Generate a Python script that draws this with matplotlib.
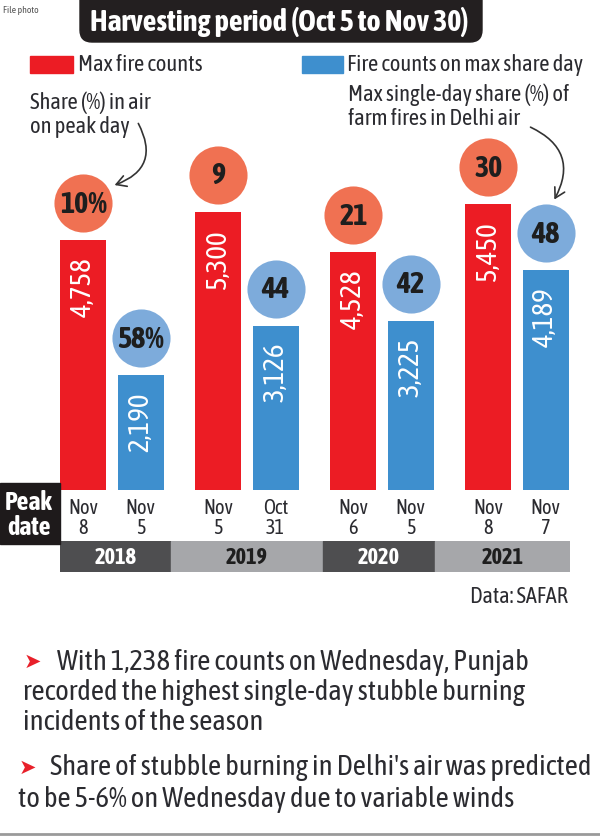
import numpy as np
import matplotlib
matplotlib.use('Agg')
import matplotlib.pyplot as plt
from matplotlib import font_manager
from matplotlib.patches import FancyBboxPatch, Rectangle, FancyArrowPatch
from matplotlib.transforms import offset_copy

# data
years = ['2018', '2019', '2020', '2021']
max_fire = [4758, 5300, 4528, 5450]
share_day_fire = [2190, 3126, 3225, 4189]
peak_share = ['10%', '9', '21', '30']
max_share = ['58%', '44', '42', '48']
red_dates = ['Nov\n8', 'Nov\n5', 'Nov\n6', 'Nov\n8']
blue_dates = ['Nov\n5', 'Oct\n31', 'Nov\n5', 'Nov\n7']

RED = '#ec1c24'
BLUE = '#3e8fce'
RED_C = '#f07152'
BLUE_C = '#7dabdb'
TXT = '#2b2b30'


# pick a narrow family, and one that has a real bold
def wnum(w):
    return w if isinstance(w, (int, float)) else font_manager.weight_dict.get(w, 400)


fams = {}
for f in font_manager.fontManager.ttflist:
    fams.setdefault(f.name, set()).add(wnum(f.weight))
narrow = [n for n in fams if 'Narrow' in n or 'Condensed' in n]
bad = ('Light', 'Thin', 'Medium', 'Black', 'Semi', 'Extra', 'Bold')


def score(n):
    s = 0
    if any(b in n for b in bad):
        s -= 10
    if 400 in fams[n]:
        s += 2
    if max(fams[n]) >= 700:
        s += 3
    return s


FONT = max(narrow, key=score) if narrow else 'DejaVu Sans'
if max(fams.get(FONT, {400})) >= 700:
    BFONT = FONT
else:
    bolds = [n for n in narrow if max(fams[n]) >= 700 or 'Bold' in n]
    BFONT = bolds[0] if bolds else 'DejaVu Sans'
plt.rcParams['font.family'] = [FONT, 'DejaVu Sans']
BOLD = dict(family=[BFONT, 'DejaVu Sans'], fontweight='bold')

W, H = 600, 837
fig = plt.figure(figsize=(W / 100, H / 100), dpi=100)
fig.patch.set_facecolor('white')


def frac(x0, y0, x1, y1):
    return [x0 / W, 1 - y1 / H, (x1 - x0) / W, (y1 - y0) / H]


def fit(texts, size, along='w'):
    # scale a group of texts so that the first one has the wanted width / height
    r = fig.canvas.get_renderer()
    bb = texts[0].get_window_extent(r)
    cur = bb.width if along == 'w' else bb.height
    fs = texts[0].get_fontsize() * size / cur
    for t in texts:
        t.set_fontsize(fs)
    return fs


# bar axes
x = np.arange(len(years))
off = 0.213
bw = 0.34
xlim = (-0.385, 3.393)

ax = fig.add_axes(frac(60, 141, 570, 491))
ax.bar(x - off, max_fire, bw, color=RED)
ax.bar(x + off, share_day_fire, bw, color=BLUE)
ax.set_xlim(*xlim)
ax.set_ylim(0, 6671)
ax.axis('off')

lab_tr = offset_copy(ax.transData, fig=fig, y=-16, units='dots')
circ_tr = offset_copy(ax.transData, fig=fig, y=37, units='dots')
date_tr = offset_copy(ax.transData, fig=fig, y=-27, units='dots')

val_t, circ_t, date_t = [], [], []
for xs, vals, circ, cc, dates in [(x - off, max_fire, peak_share, RED_C, red_dates),
                                  (x + off, share_day_fire, max_share, BLUE_C, blue_dates)]:
    ax.scatter(xs, vals, s=1750, color=cc, transform=circ_tr, clip_on=False, zorder=3,
               linewidths=0)
    for xi, v, c, d in zip(xs, vals, circ, dates):
        val_t.append(ax.text(xi, v, f'{v:,}', transform=lab_tr, rotation=90, ha='center',
                             va='top', color='white', fontsize=18))
        circ_t.append(ax.text(xi, v, c, transform=circ_tr, ha='center', va='center',
                              color='#1e1e1e', fontsize=18, zorder=4, clip_on=False,
                              **BOLD))
        date_t.append(ax.text(xi, 0, d, transform=date_tr, ha='center', va='center',
                              color=TXT, fontsize=15, linespacing=1.0, clip_on=False))
fit(val_t, 60, along='h')
fit(circ_t, 47)
fit(date_t, 30)

# year band
yr = fig.add_axes(frac(60, 542, 570, 573))
edges = [xlim[0], 0.44, 1.56, 2.39, xlim[1]]
yr_t = []
for i, y in enumerate(years):
    dark = i % 2 == 0
    yr.axvspan(edges[i], edges[i + 1], color='#4e4e50' if dark else '#a6a7aa')
    yr_t.append(yr.text((edges[i] + edges[i + 1]) / 2, 0.5, y, ha='center', va='center',
                        color='white' if dark else '#1e1e1e', fontsize=17, **BOLD))
fit(yr_t, 42)
yr.set_xlim(*xlim)
yr.set_ylim(0, 1)
yr.axis('off')

# overlay for text and boxes
ov = fig.add_axes([0, 0, 1, 1])
ov.set_xlim(0, W)
ov.set_ylim(H, 0)
ov.axis('off')
ov.patch.set_alpha(0)

ov.text(3, 10, 'File photo', fontsize=7, color='#555555', va='center')
ov.add_patch(FancyBboxPatch((80, -20), 402, 63, boxstyle='round,pad=0,rounding_size=12',
                            color='#231f20'))
t = ov.text(90, 22, 'Harvesting period (Oct 5 to Nov 30)', color='white',
            fontsize=22, va='center', **BOLD)
fit([t], 378)

ov.add_patch(Rectangle((30, 57), 43, 17, color=RED))
ov.add_patch(Rectangle((302, 57), 41, 17, color=BLUE))
leg = [ov.text(78, 65, 'Max fire counts', color=TXT, fontsize=14, va='center'),
       ov.text(347, 65, 'Fire counts on max share day', color=TXT, fontsize=14,
               va='center'),
       ov.text(30, 115, 'Share (%) in air\non peak day', color=TXT, fontsize=14,
               va='center', linespacing=1.1),
       ov.text(348, 107, 'Max single-day share (%) of\nfarm fires in Delhi air', color=TXT,
               fontsize=14, va='center', linespacing=1.1)]
fit(leg, 124)

ov.add_patch(FancyArrowPatch((137, 122), (112, 187), connectionstyle='arc3,rad=-0.6',
                             arrowstyle='->,head_length=7,head_width=4', color='#333333',
                             lw=1.2))
ov.add_patch(FancyArrowPatch((528, 127), (553, 203), connectionstyle='arc3,rad=-0.55',
                             arrowstyle='->,head_length=7,head_width=4', color='#333333',
                             lw=1.2))

# peak date box
ov.add_patch(Rectangle((0, 484), 60, 61, color='#1e1a1b'))
t = ov.text(29, 515, 'Peak\ndate', color='white', fontsize=17,
            ha='center', va='center', linespacing=1.0, **BOLD)
fit([t], 48)

t = ov.text(568, 597, 'Data: SAFAR', color=TXT, fontsize=13, ha='right', va='center')
fit([t], 98)

# bullets
bl = [ov.text(50, 768, "Share of stubble burning in Delhi's air was predicted", color=TXT,
              fontsize=18, va='center'),
      ov.text(18, 800, 'to be 5-6% on Wednesday due to variable winds', color=TXT,
              fontsize=18, va='center'),
      ov.text(57, 662, 'With 1,238 fire counts on Wednesday, Punjab', color=TXT,
              fontsize=18, va='center'),
      ov.text(23, 693, 'recorded the highest single-day stubble burning', color=TXT,
              fontsize=18, va='center'),
      ov.text(23, 722, 'incidents of the season', color=TXT, fontsize=18, va='center')]
fit(bl, 538)
for bx, by in [(32, 662), (27, 768)]:
    ov.text(bx, by, '\u27a4', color='#e8202a', fontsize=15, ha='center', va='center',
            family='DejaVu Sans')

ov.plot([0, W], [835, 835], color='#9a9a9a', lw=2)

fig.savefig('out.png', dpi=100)
